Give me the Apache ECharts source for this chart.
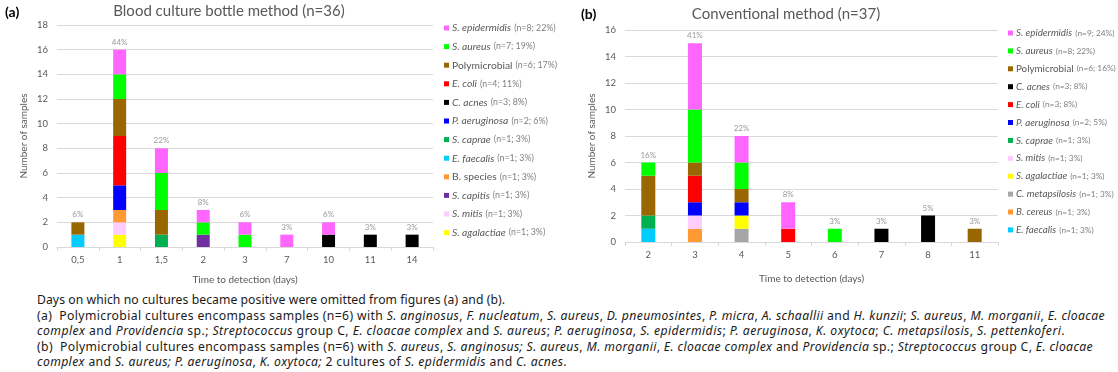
<!DOCTYPE html>
<html>
<head>
<meta charset="utf-8">
<script src="https://cdn.jsdelivr.net/npm/echarts@6/dist/echarts.min.js"></script>
<style>
body { margin: 0; background: #fff; width: 1118px; height: 372px; overflow: hidden; position: relative; }
#chartA { position: absolute; left: 0; top: 0; width: 560px; height: 290px; }
#chartB { position: absolute; left: 560px; top: 0; width: 558px; height: 290px; }
#caption { position: absolute; left: 37px; top: 292px; font-family: "Noto Sans", sans-serif; font-size: 12.2px; line-height: 15.6px; color: #1a1a1a; white-space: nowrap; }
#caption .ln { display: block; width: max-content; }
</style>
</head>
<body>
<div id="chartA"></div>
<div id="chartB"></div>
<div id="caption">
<span class="ln">Days on which no cultures became positive were omitted from figures (a) and (b).</span>
<span class="ln">(a)&nbsp; Polymicrobial cultures encompass samples (n=6) with <i>S. anginosus</i>, <i>F. nucleatum</i>, <i>S. aureus</i>, <i>D. pneumosintes</i>, <i>P. micra</i>, <i>A. schaallii</i> and <i>H. kunzii</i>; <i>S. aureus</i>, <i>M. morganii</i>, <i>E. cloacae</i></span>
<span class="ln"><i>complex</i> and <i>Providencia</i> sp.; <i>Streptococcus</i> group C, <i>E. cloacae complex</i> and <i>S. aureus</i>; <i>P. aeruginosa</i>, <i>S. epidermidis</i>; <i>P. aeruginosa</i>, <i>K. oxytoca</i>; <i>C. metapsilosis</i>, <i>S. pettenkoferi</i>.</span>
<span class="ln">(b)&nbsp; Polymicrobial cultures encompass samples (n=6) with <i>S. aureus</i>, <i>S. anginosus; S. aureus</i>, <i>M. morganii</i>, <i>E. cloacae complex</i> and <i>Providencia</i> sp.; <i>Streptococcus</i> group C, <i>E. cloacae</i></span>
<span class="ln"><i>complex</i> and <i>S. aureus; P. aeruginosa</i>, <i>K. oxytoca;</i> 2 cultures of <i>S. epidermidis</i> and <i>C. acnes</i>.</span>
</div>
<script>
// (a) blood culture bottle method
var catsA = ['0,5', '1', '1,5', '2', '3', '7', '10', '11', '14'];
var aAgalactiae = [0, 1, 0, 0, 0, 0, 0, 0, 0];
var aMitis      = [0, 1, 0, 0, 0, 0, 0, 0, 0];
var aCapitis    = [0, 0, 0, 1, 0, 0, 0, 0, 0];
var aBspecies   = [0, 1, 0, 0, 0, 0, 0, 0, 0];
var aFaecalis   = [1, 0, 0, 0, 0, 0, 0, 0, 0];
var aCaprae     = [0, 0, 1, 0, 0, 0, 0, 0, 0];
var aPaerug     = [0, 2, 0, 0, 0, 0, 0, 0, 0];
var aAcnes      = [0, 0, 0, 0, 0, 0, 1, 1, 1];
var aEcoli      = [0, 4, 0, 0, 0, 0, 0, 0, 0];
var aPoly       = [1, 3, 2, 0, 0, 0, 0, 0, 0];
var aAureus     = [0, 2, 3, 1, 1, 0, 0, 0, 0];
var aEpi        = [0, 2, 2, 1, 1, 1, 1, 0, 0];
var pctA = ['6%', '44%', '22%', '8%', '6%', '3%', '6%', '3%', '3%'];
var legendA = ['S. epidermidis', 'S. aureus', 'Polymicrobial', 'E. coli', 'C. acnes', 'P. aeruginosa',
    'S. caprae', 'E. faecalis', 'B. species', 'S. capitis', 'S. mitis', 'S. agalactiae'];
var countsA = ['n=8; 22%', 'n=7; 19%', 'n=6; 17%', 'n=4; 11%', 'n=3; 8%', 'n=2; 6%',
    'n=1; 3%', 'n=1; 3%', 'n=1; 3%', 'n=1; 3%', 'n=1; 3%', 'n=1; 3%'];

// (b) conventional method
var catsB = ['2', '3', '4', '5', '6', '7', '8', '11'];
var bFaecalis   = [1, 0, 0, 0, 0, 0, 0, 0];
var bCereus     = [0, 1, 0, 0, 0, 0, 0, 0];
var bMetaps     = [0, 0, 1, 0, 0, 0, 0, 0];
var bAgalactiae = [0, 0, 1, 0, 0, 0, 0, 0];
var bMitis      = [0, 1, 0, 0, 0, 0, 0, 0];
var bCaprae     = [1, 0, 0, 0, 0, 0, 0, 0];
var bPaerug     = [0, 1, 1, 0, 0, 0, 0, 0];
var bEcoli      = [0, 2, 0, 1, 0, 0, 0, 0];
var bAcnes      = [0, 0, 0, 0, 0, 1, 2, 0];
var bPoly       = [3, 1, 1, 0, 0, 0, 0, 1];
var bAureus     = [1, 4, 2, 0, 1, 0, 0, 0];
var bEpi        = [0, 5, 2, 2, 0, 0, 0, 0];
var pctB = ['16%', '41%', '22%', '8%', '3%', '3%', '5%', '3%'];
var legendB = ['S. epidermidis', 'S. aureus', 'Polymicrobial', 'C. acnes', 'E. coli', 'P. aeruginosa',
    'S. caprae', 'S. mitis', 'S. agalactiae', 'C. metapsilosis', 'B. cereus', 'E. faecalis'];
var countsB = ['n=9; 24%', 'n=8; 22%', 'n=6; 16%', 'n=3; 8%', 'n=3; 8%', 'n=2; 5%',
    'n=1; 3%', 'n=1; 3%', 'n=1; 3%', 'n=1; 3%', 'n=1; 3%', 'n=1; 3%'];

var colors = {
    'S. epidermidis': '#ff66ff', 'S. aureus': '#00ff00', 'Polymicrobial': '#996600',
    'E. coli': '#ff0000', 'C. acnes': '#000000', 'P. aeruginosa': '#0000ff',
    'S. caprae': '#00b050', 'E. faecalis': '#00ccff', 'B. species': '#ff9933',
    'B. cereus': '#ff9933', 'S. capitis': '#7030a0', 'S. mitis': '#ffccff',
    'S. agalactiae': '#ffff00', 'C. metapsilosis': '#a6a6a6'
};
var plainNames = ['Polymicrobial', 'B. species'];
var FONT = 'Lato, "Liberation Sans", sans-serif';

var chartStack = function (id, cats, stacks, pct, legendNames, counts, opt) {
    var chartDom = document.getElementById(id);
    var myChart = echarts.init(chartDom);
    var totals = cats.map(function (c, i) {
        return stacks.reduce(function (s, st) { return s + st[1][i]; }, 0);
    });
    var series = stacks.map(function (st) {
        return {
            name: st[0],
            type: 'bar',
            stack: 'all',
            barWidth: opt.barWidth,
            data: st[1],
            itemStyle: { color: colors[st[0]] }
        };
    });
    // percentage labels sitting on top of each stack
    series.push({
        name: 'total',
        type: 'scatter',
        data: totals,
        symbolSize: 1,
        itemStyle: { color: 'rgba(0,0,0,0)' },
        label: {
            show: true,
            position: 'top',
            distance: 3,
            fontFamily: FONT,
            fontSize: 8,
            color: '#7f7f7f',
            formatter: function (p) { return pct[p.dataIndex]; }
        }
    });
    var option = {
        animation: false,
        textStyle: { fontFamily: FONT },
        title: [
            {
                text: opt.tag, left: opt.tagLeft, top: opt.tagTop,
                textStyle: { fontFamily: FONT, fontSize: 14, fontWeight: 'bold', color: '#000' }
            },
            {
                text: opt.title, left: opt.titleX, top: opt.titleTop, textAlign: 'center',
                textStyle: { fontFamily: FONT, fontSize: 15, fontWeight: 'normal', color: '#595959' }
            }
        ],
        grid: { left: opt.left, right: opt.right, top: opt.top, bottom: opt.bottom },
        legend: {
            orient: 'vertical',
            left: opt.legendLeft,
            top: opt.legendTop,
            padding: 0,
            icon: 'rect',
            itemWidth: 5,
            itemHeight: 5,
            itemGap: opt.legendGap,
            data: legendNames,
            formatter: function (name) {
                var i = legendNames.indexOf(name);
                var tag = plainNames.indexOf(name) >= 0 ? 'p' : 'i';
                return '{' + tag + '|' + name + '} {n|(' + counts[i] + ')}';
            },
            textStyle: {
                padding: [0, 0, 0, -2],
                rich: {
                    i: { fontFamily: FONT, fontStyle: 'italic', fontSize: opt.legendFont, color: '#595959', lineHeight: 12 },
                    p: { fontFamily: FONT, fontSize: opt.legendFont, color: '#595959', lineHeight: 12 },
                    n: { fontFamily: FONT, fontSize: opt.legendFont - 1.5, color: '#7f7f7f', lineHeight: 12 }
                }
            }
        },
        xAxis: {
            type: 'category',
            data: cats,
            name: 'Time to detection (days)',
            nameLocation: 'middle',
            nameGap: opt.xNameGap,
            nameTextStyle: { fontFamily: FONT, fontSize: 10, color: '#595959' },
            axisLine: { lineStyle: { color: '#d9d9d9' } },
            axisTick: { show: true, length: 4, lineStyle: { color: '#d9d9d9' } },
            axisLabel: { fontFamily: FONT, fontSize: 9.5, color: '#595959', margin: 8 }
        },
        yAxis: {
            type: 'value',
            min: 0,
            max: opt.yMax,
            interval: 2,
            name: 'Number of samples',
            nameLocation: 'middle',
            nameGap: 28,
            nameMoveOverlap: false,
            nameTextStyle: { fontFamily: FONT, fontSize: 10, color: '#595959' },
            axisLine: { show: false },
            axisTick: { show: false },
            axisLabel: { fontFamily: FONT, fontSize: 9.5, color: '#595959', margin: 9 },
            splitLine: { lineStyle: { color: '#d9d9d9' } }
        },
        series: series
    };
    option && myChart.setOption(option);
};

chartStack('chartA', catsA, [
    ['S. agalactiae', aAgalactiae], ['S. mitis', aMitis], ['S. capitis', aCapitis],
    ['B. species', aBspecies], ['E. faecalis', aFaecalis], ['S. caprae', aCaprae],
    ['P. aeruginosa', aPaerug], ['C. acnes', aAcnes], ['E. coli', aEcoli],
    ['Polymicrobial', aPoly], ['S. aureus', aAureus], ['S. epidermidis', aEpi]
], pctA, legendA, countsA, {
    tag: '(a)', tagLeft: 0, tagTop: 0,
    title: 'Blood culture bottle method (n=36)', titleX: 224, titleTop: -1,
    left: 57, right: 127, top: 25, bottom: 43, barWidth: 13, yMax: 18, xNameGap: 28,
    legendLeft: 444, legendTop: 22, legendGap: 6.6, legendFont: 10.3
});

chartStack('chartB', catsB, [
    ['E. faecalis', bFaecalis], ['B. cereus', bCereus], ['C. metapsilosis', bMetaps],
    ['S. agalactiae', bAgalactiae], ['S. mitis', bMitis], ['S. caprae', bCaprae],
    ['P. aeruginosa', bPaerug], ['E. coli', bEcoli], ['C. acnes', bAcnes],
    ['Polymicrobial', bPoly], ['S. aureus', bAureus], ['S. epidermidis', bEpi]
], pctB, legendB, countsB, {
    tag: '(b)', tagLeft: 16, tagTop: 2,
    title: 'Conventional method (n=37)', titleX: 221, titleTop: 2,
    left: 65, right: 120, top: 30, bottom: 48, barWidth: 14, yMax: 16, xNameGap: 32,
    legendLeft: 448, legendTop: 27, legendGap: 5.9, legendFont: 9.8
});

// stretch each caption line to the right edge it has in the source figure
var captionEnds = [505, 1105, 1065, 1093, 567];
document.querySelectorAll('#caption .ln').forEach(function (el, i) {
    var w = el.getBoundingClientRect().width;
    var n = el.textContent.trim().length;
    el.style.letterSpacing = ((captionEnds[i] - 37 - w) / n) + 'px';
});
</script>
</body>
</html>
